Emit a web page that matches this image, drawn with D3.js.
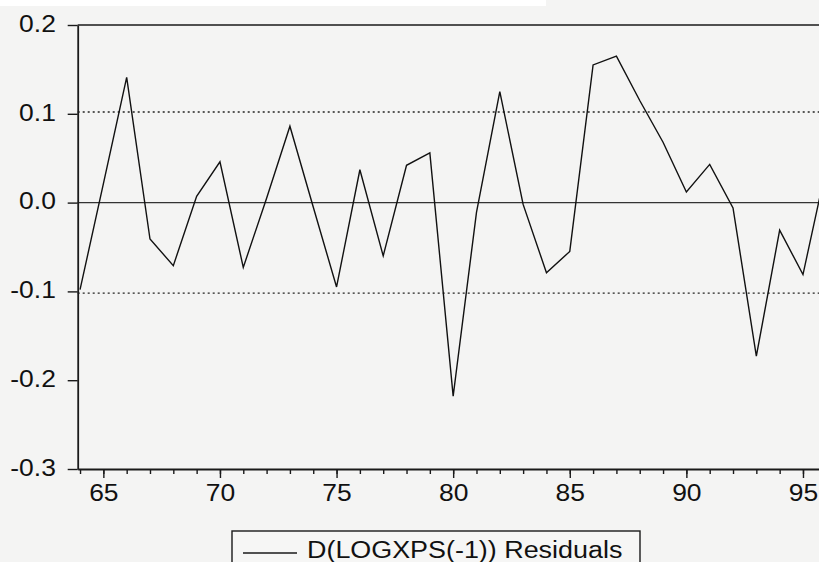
<!DOCTYPE html>
<html>
<head>
<meta charset="utf-8">
<script src="https://cdn.jsdelivr.net/npm/d3@7"></script>
<style>
  body { margin: 0; background: #f4f4f3; }
  svg { display: block; }
  .tick text { font-family: "Liberation Sans", Arial, sans-serif; fill: #111; }
</style>
</head>
<body>
<svg width="819" height="562"></svg>
<script>
var years = [64, 65, 66, 67, 68, 69, 70, 71, 72, 73, 74, 75, 76, 77, 78, 79, 80,
             81, 82, 83, 84, 85, 86, 87, 88, 89, 90, 91, 92, 93, 94, 95, 96];
var residuals = [-0.098, 0.021, 0.141, -0.041, -0.071, 0.007, 0.046, -0.073, 0.005, 0.086, -0.005,
                 -0.095, 0.037, -0.060, 0.042, 0.056, -0.218, -0.011, 0.125, -0.002, -0.079,
                 -0.055, 0.155, 0.165, 0.115, 0.068, 0.012, 0.043, -0.006, -0.173, -0.031,
                 -0.081, 0.040];
var yTicks = [-0.3, -0.2, -0.1, 0.0, 0.1, 0.2];
var xMajor = [65, 70, 75, 80, 85, 90, 95];
var bandLimit = 0.102; // dotted +/- lines
var seriesName = "D(LOGXPS(-1)) Residuals";

var svg = d3.select("svg");

// white strip of the scan at the top
svg.append("rect").attr("x", 0).attr("y", 0).attr("width", 546).attr("height", 6).attr("fill", "#fff");

var x = d3.scaleLinear().domain([63.9, 96]).range([77.7, 826.3]),
    y = d3.scaleLinear().domain([-0.3, 0.2]).range([469, 25]);

var ink = "#1a1a1a";

// top frame line
svg.append("line")
    .attr("x1", x(63.9)).attr("x2", 819)
    .attr("y1", y(0.2)).attr("y2", y(0.2))
    .attr("stroke", ink).attr("stroke-width", 1.6);

// zero line
svg.append("line")
    .attr("x1", x(63.9)).attr("x2", 819)
    .attr("y1", y(0)).attr("y2", y(0))
    .attr("stroke", "#333").attr("stroke-width", 1.3);

// dotted limit lines
[bandLimit, -bandLimit].forEach(function (v) {
    svg.append("line")
        .attr("x1", x(63.9)).attr("x2", 819)
        .attr("y1", y(v)).attr("y2", y(v))
        .attr("stroke", "#222").attr("stroke-width", 1.3)
        .attr("stroke-dasharray", "2,3");
});

// y axis
var yAxis = svg.append("g")
    .attr("transform", "translate(" + x(63.9) + ",0)")
    .call(d3.axisLeft(y).tickValues(yTicks).tickSize(10).tickPadding(12).tickSizeOuter(0)
        .tickFormat(function (d) { return d.toFixed(1); }));
yAxis.selectAll("text").attr("font-size", 23).attr("transform", "translate(0,-1) scale(1.15,1)").attr("x", -19);

// x axis minor ticks
svg.append("g")
    .attr("transform", "translate(0," + y(-0.3) + ")")
    .call(d3.axisBottom(x).tickValues(years).tickSize(5).tickSizeOuter(0).tickFormat(""))
    .select(".domain").remove();

// x axis major ticks with labels
var xAxis = svg.append("g")
    .attr("transform", "translate(0," + y(-0.3) + ")")
    .call(d3.axisBottom(x).tickValues(xMajor).tickSize(9).tickPadding(7).tickSizeOuter(0)
        .tickFormat(function (d) { return d; }));
xAxis.selectAll("text").attr("font-size", 23).attr("transform", "scale(1.15,1)");

svg.selectAll(".domain").attr("stroke", ink).attr("stroke-width", 1.8);
svg.selectAll(".tick line").attr("stroke", ink).attr("stroke-width", 1.4);

// residual series
var pts = years.map(function (d, i) { return {year: d, value: residuals[i]}; });
var line = d3.line()
    .x(function (d) { return x(d.year); })
    .y(function (d) { return y(d.value); });

svg.append("path")
    .datum(pts)
    .attr("fill", "none")
    .attr("stroke", "#111")
    .attr("stroke-width", 1.4)
    .attr("d", line);

// legend (cut by the bottom edge, as in the scan)
var lg = svg.append("g").attr("transform", "translate(232,531)");
lg.append("rect")
    .attr("width", 408).attr("height", 40)
    .attr("fill", "#f6f6f5").attr("stroke", ink).attr("stroke-width", 1.4);
lg.append("line")
    .attr("x1", 11).attr("x2", 65).attr("y1", 22).attr("y2", 22)
    .attr("stroke", ink).attr("stroke-width", 1.3);
lg.append("g")
    .attr("transform", "translate(75,27) scale(1.17,1)")
    .append("text")
    .attr("font-family", "Liberation Sans, Arial, sans-serif")
    .attr("font-size", 23)
    .attr("fill", "#111")
    .text(seriesName);
</script>
</body>
</html>
